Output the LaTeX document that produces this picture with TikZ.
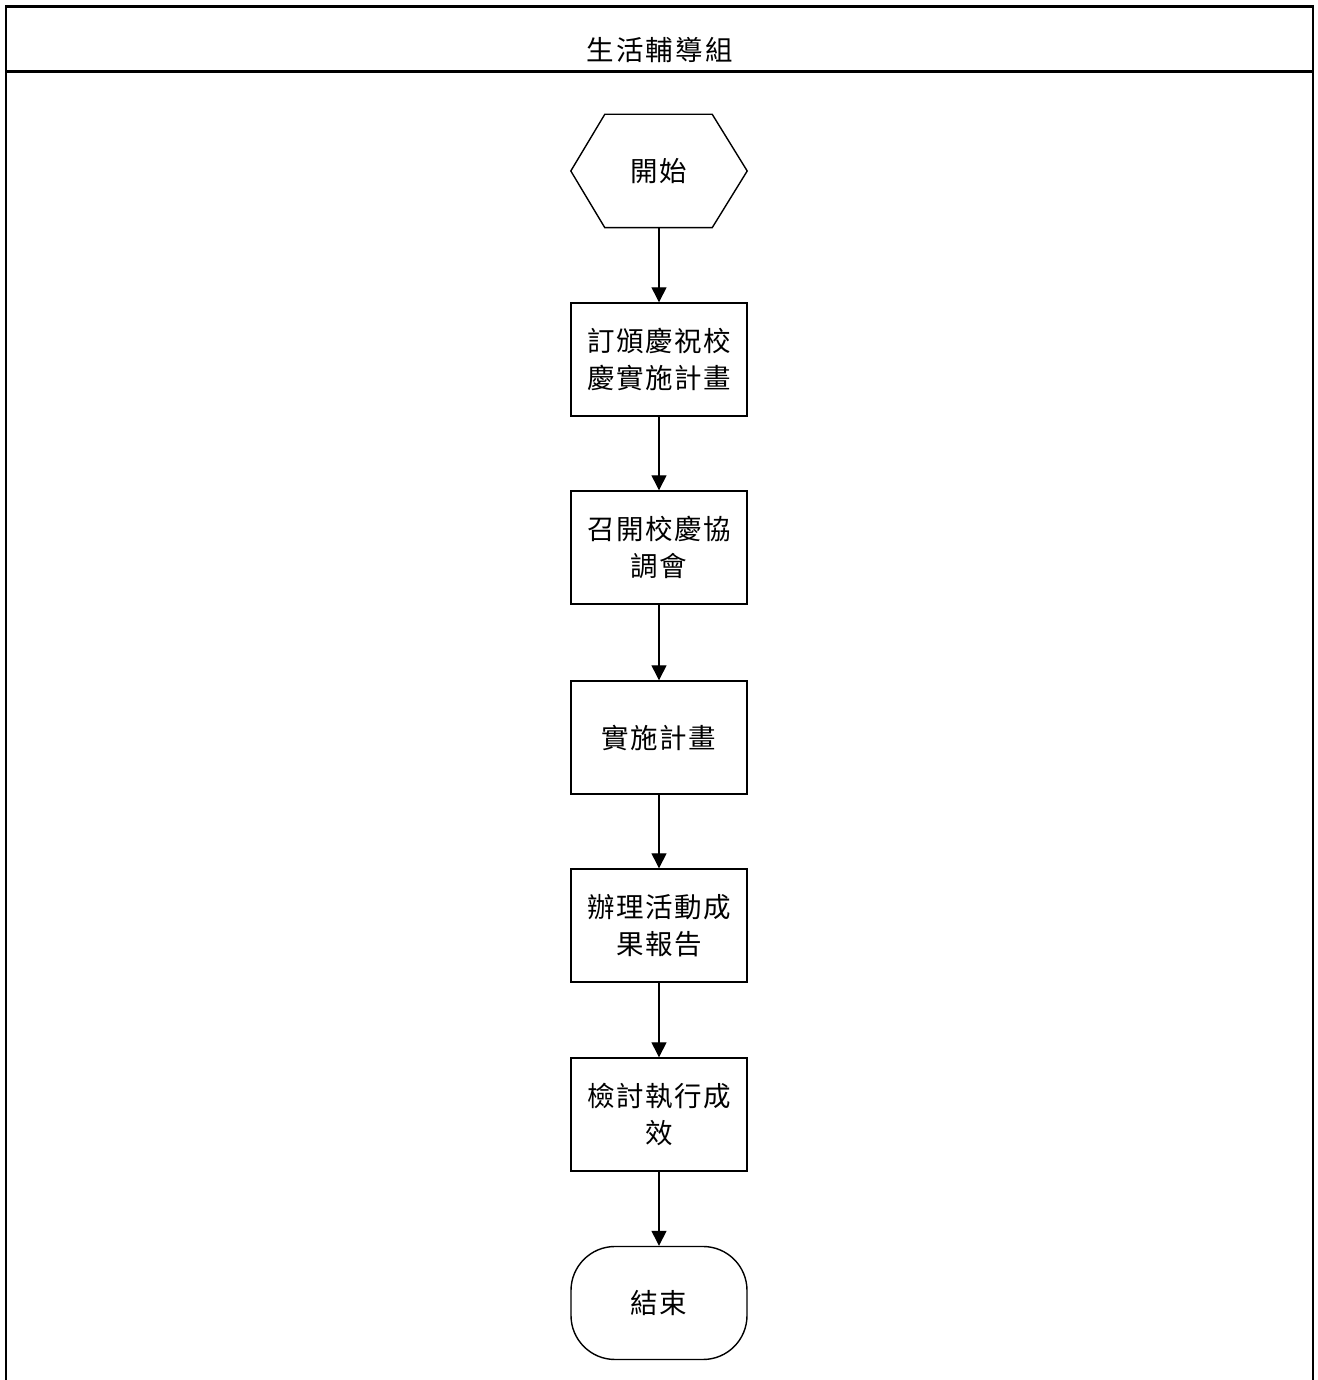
\documentclass[tikz,border=0pt]{standalone}
\usepackage{fontspec}
\setmainfont{Noto Sans CJK TC}
\usetikzlibrary{arrows.meta,calc}
\begin{document}
\begin{tikzpicture}[x=1pt,y=1pt,
  frame/.style={line width=2.6pt},
  stepbox/.style={draw,line width=1.4pt,minimum width=176pt,minimum height=113pt,inner sep=0pt,
    align=center,font=\fontsize{27.5pt}{37pt}\selectfont\addfontfeature{LetterSpace=5}},
  endbox/.style={stepbox,rounded corners=44pt},
  startbox/.style={minimum width=176pt,minimum height=113pt,inner sep=0pt,
    align=center,font=\fontsize{27.5pt}{37pt}\selectfont\addfontfeature{LetterSpace=5}},
  flow/.style={line width=1.4pt,-{Triangle[length=15pt,width=15pt]}},
  titletext/.style={font=\fontsize{27.5pt}{37pt}\selectfont\addfontfeature{LetterSpace=8}}]
\useasboundingbox (0,0) rectangle (1317,1380);
% frame
\draw[frame] (6,0) -- (6,1373.5) -- (1313,1373.5) -- (1313,0);
\draw[frame] (6,1308.5) -- (1313,1308.5);
\node[titletext] (title) at (659.5,1330) {生活輔導組};
% nodes
\node[startbox] (start) at (659,1209) {開始};
\draw[line width=1.4pt] (start.west) -- ($(start.north west)+(34,0)$) -- ($(start.north east)+(-35,0)$)
  -- (start.east) -- ($(start.south east)+(-35,0)$) -- ($(start.south west)+(34,0)$) -- cycle;
\node[stepbox] (s1) at (659,1020.5) {訂頒慶祝校\\慶實施計畫};
\node[stepbox] (s2) at (659,832.5) {召開校慶協\\調會};
\node[stepbox] (s3) at (659,642.5) {實施計畫};
\node[stepbox] (s4) at (659,454.5) {辦理活動成\\果報告};
\node[stepbox] (s5) at (659,265.5) {檢討執行成\\效};
\node[endbox] (end) at (659,77) {結束};
% connectors
\draw[flow] (start.south) -- (s1.north);
\draw[flow] (s1.south) -- (s2.north);
\draw[flow] (s2.south) -- (s3.north);
\draw[flow] (s3.south) -- (s4.north);
\draw[flow] (s4.south) -- (s5.north);
\draw[flow] (s5.south) -- (end.north);
\end{tikzpicture}
\end{document}
